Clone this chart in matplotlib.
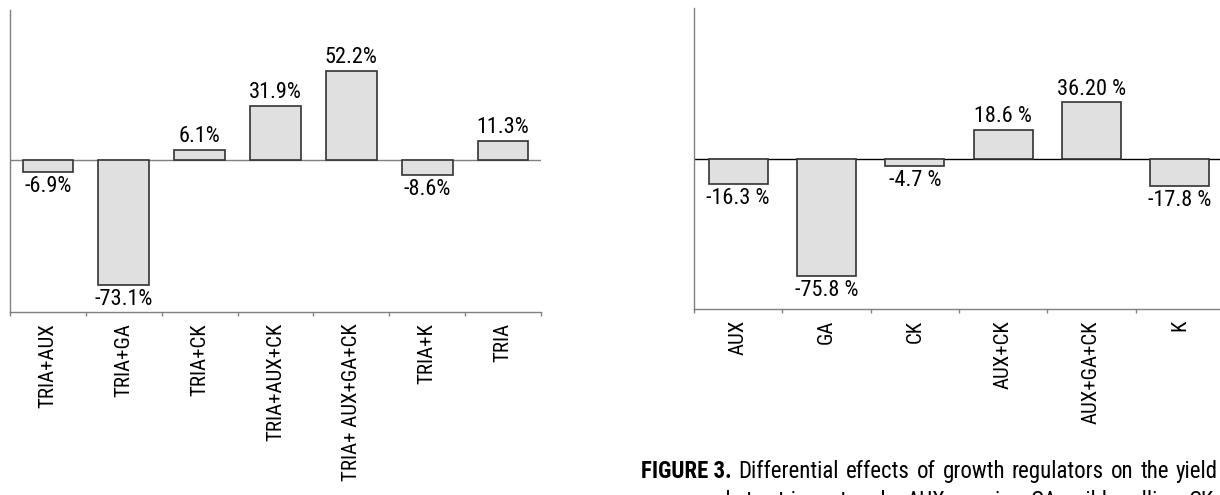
import matplotlib.pyplot as plt
from matplotlib import font_manager
import numpy as np

# left panel: TRIA combinations
left_labels = ['TRIA+AUX', 'TRIA+GA', 'TRIA+CK', 'TRIA+AUX+CK',
               'TRIA+ AUX+GA+CK', 'TRIA+K', 'TRIA']
left_values = [-6.9, -73.1, 6.1, 31.9, 52.2, -8.6, 11.3]
left_text = ['-6.9%', '-73.1%', '6.1%', '31.9%', '52.2%', '-8.6%', '11.3%']

# right panel: regulators alone
right_labels = ['AUX', 'GA', 'CK', 'AUX+CK', 'AUX+GA+CK', 'K']
right_values = [-16.3, -75.8, -4.7, 18.6, 36.2, -17.8]
right_text = ['-16.3 %', '-75.8 %', '-4.7 %', '18.6 %', '36.20 %', '-17.8 %']

caption_bold = 'FIGURE 3.'
caption_line1 = 'Differential effects of growth regulators on the yield'
caption_line2 = 'compared to triacontanol. AUX, auxin; GA, gibberellin; CK,'

# look for a narrow face, the original uses a condensed grotesque
names = {f.name for f in font_manager.fontManager.ttflist}
condensed = [f for f in font_manager.fontManager.ttflist
             if 'condensed' in str(f.stretch) or 'Narrow' in f.name or 'Condensed' in f.name]
cands = ['Liberation Sans Narrow', 'Roboto Condensed', 'Open Sans Condensed']
FONT = None
for c in cands:
    if c in names:
        FONT = c
        break
STRETCH = 'normal'
if FONT is None and condensed:
    FONT = condensed[0].name
    STRETCH = condensed[0].stretch
if FONT is None:
    FONT = 'DejaVu Sans'
    FS, FT, CAP = 12, 11, 11
else:
    FS, FT, CAP = 16, 15, 16.5

plt.rcParams['font.family'] = [FONT, 'DejaVu Sans']
plt.rcParams['font.stretch'] = STRETCH

W, H = 1220, 495
SPINE = '#808080'
FILL = '#e0e0e0'
EDGE = '#333333'


def draw_panel(fig, rect, labels, values, texts, ylim, zero_color):
    ax = fig.add_axes(rect)
    n = len(values)
    x = np.arange(n)
    ax.bar(x, values, width=0.67, color=FILL, edgecolor=EDGE, linewidth=1.2, zorder=3)
    ax.axhline(0, color=zero_color, linewidth=1.0, zorder=2)
    ax.set_xlim(-0.5, n - 0.5)
    ax.set_ylim(*ylim)
    for side in ['top', 'right']:
        ax.spines[side].set_visible(False)
    for side in ['left', 'bottom']:
        ax.spines[side].set_color(SPINE)
        ax.spines[side].set_linewidth(1.0)
    ax.set_yticks([])
    ax.set_xticks(np.arange(n + 1) - 0.5)
    ax.set_xticklabels([])
    ax.tick_params(axis='x', which='major', length=3, width=1.0, color=SPINE, direction='out')
    ax.set_xticks(x, minor=True)
    ax.set_xticklabels(labels, minor=True, rotation=90, fontsize=FT, va='top')
    ax.tick_params(axis='x', which='minor', length=0, pad=8)
    for xi, v, t in zip(x, values, texts):
        if v >= 0:
            ax.annotate(t, (xi, v), xytext=(0, 2), textcoords='offset points',
                        ha='center', va='bottom', fontsize=FS)
        else:
            ax.annotate(t, (xi, v), xytext=(0, -3), textcoords='offset points',
                        ha='center', va='top', fontsize=FS)
    return ax


def justify_line(fig, words, y_px, x0, x1, bold_first=0):
    # place each word, then spread the spare room over the gaps
    renderer = fig.canvas.get_renderer()
    items = []
    for i, w in enumerate(words):
        weight = 'bold' if i < bold_first else 'normal'
        t = fig.text(0, (H - y_px) / H, w, fontsize=CAP, fontweight=weight,
                     ha='left', va='baseline')
        items.append((t, t.get_window_extent(renderer).width))
    total = sum(wd for _, wd in items)
    gap = (x1 - x0 - total) / (len(items) - 1)
    x = x0
    for t, wd in items:
        t.set_x(x / W)
        x += wd + gap


fig = plt.figure(figsize=(W / 100, H / 100), dpi=100)

draw_panel(fig, [10 / W, (H - 312) / H, 531 / W, 302 / H],
           left_labels, left_values, left_text, (-89, 88), SPINE)
draw_panel(fig, [694 / W, (H - 309) / H, 530 / W, 301 / H],
           right_labels, right_values, right_text, (-97, 97), 'black')

fig.canvas.draw()
justify_line(fig, [caption_bold] + caption_line1.split(), 478, 641, 1218, bold_first=1)
justify_line(fig, caption_line2.split(), 508, 641, 1218)

fig.savefig('out.png', dpi=100)
